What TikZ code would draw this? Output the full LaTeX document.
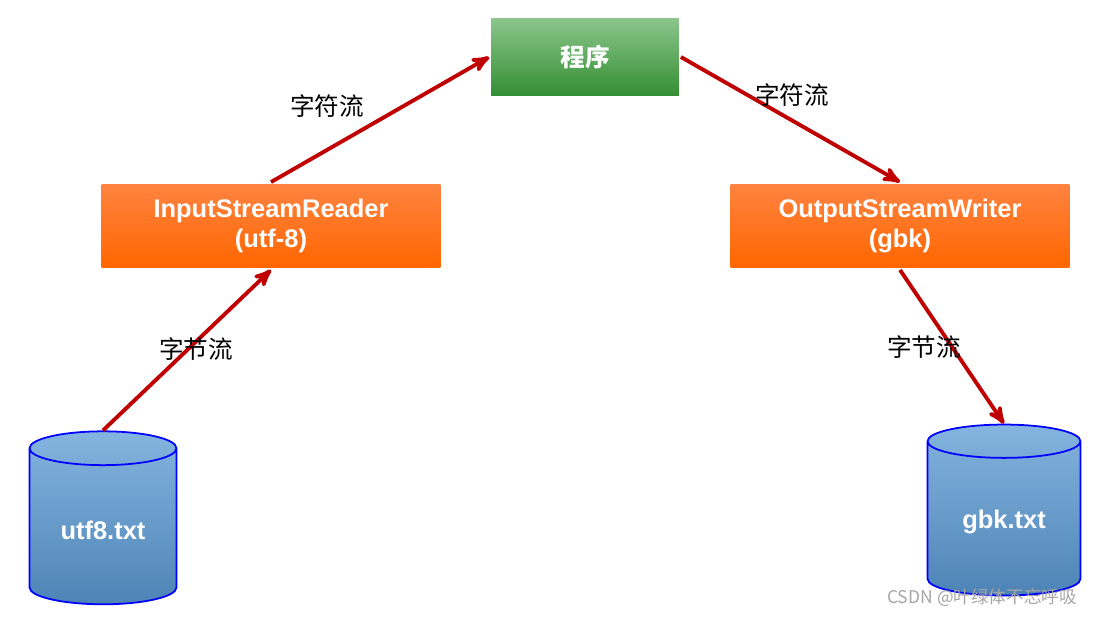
\documentclass[tikz,border=0pt]{standalone}
\usepackage{fontspec}
\setmainfont{Liberation Sans}
\newfontfamily\cjk{Noto Sans CJK SC}
\usetikzlibrary{arrows,shapes}
\definecolor{arrowred}{HTML}{C00000}
\definecolor{cylblue}{HTML}{5B9BD5}
\begin{document}
\begin{tikzpicture}[x=0.02cm,y=-0.02cm,->,>=stealth',line width=2.2pt]
  \tikzstyle{orangebox}=[draw=none,minimum width=6.78cm,minimum height=1.68cm,
    top color=orange!70!red!75!white,bottom color=orange!80!red,text=white,
    font=\bfseries\fontsize{14.5}{17}\selectfont,align=center]
  \tikzstyle{greenbox}=[draw=none,minimum width=3.76cm,minimum height=1.56cm,
    top color=green!50!black!45!white,bottom color=green!45!black!80!white,
    text=white,font=\cjk\bfseries\fontsize{14}{16}\selectfont]
  \tikzstyle{db}=[cylinder,shape border rotate=90,aspect=0.35,draw=blue,line width=1pt,
    top color=cylblue!75!white,bottom color=cylblue!85!black,text=white,
    font=\bfseries\fontsize{14.5}{17}\selectfont]
  \tikzstyle{flow}=[draw=arrowred]
  \tikzstyle{lbl}=[font=\cjk\fontsize{14}{16}\selectfont,text=black]

  \useasboundingbox (0,0) rectangle (1102,616);

  \node[greenbox]  (prog) at (585,57)  {程序};
  \node[orangebox] (isr)  at (271,226) {InputStreamReader\\(utf-8)};
  \node[orangebox] (osw)  at (900,226) {OutputStreamWriter\\(gbk)};
  \node[db,minimum width=2.94cm,minimum height=3.46cm] (utf) at (103,530) {utf8.txt};
  \node[db,minimum width=3.06cm,minimum height=3.42cm] (gbk) at (1004,522) {gbk.txt};

  \draw[flow] (utf.north) -- (isr.south);
  \draw[flow] (isr.north) -- (prog.west);
  \draw[flow] (prog.east) -- (osw.north);
  \draw[flow] (osw.south) -- (gbk.north);

  \node[lbl] (lb1) at (196,349) {字节流};
  \node[lbl] (lc1) at (327,106) {字符流};
  \node[lbl] (lc2) at (792,95)  {字符流};
  \node[lbl] (lb2) at (924,347) {字节流};
  \node[font=\cjk\fontsize{10}{12}\selectfont,text=gray!70] (mark) at (982,598) {CSDN @叶绿体不忘呼吸};
\end{tikzpicture}
\end{document}
